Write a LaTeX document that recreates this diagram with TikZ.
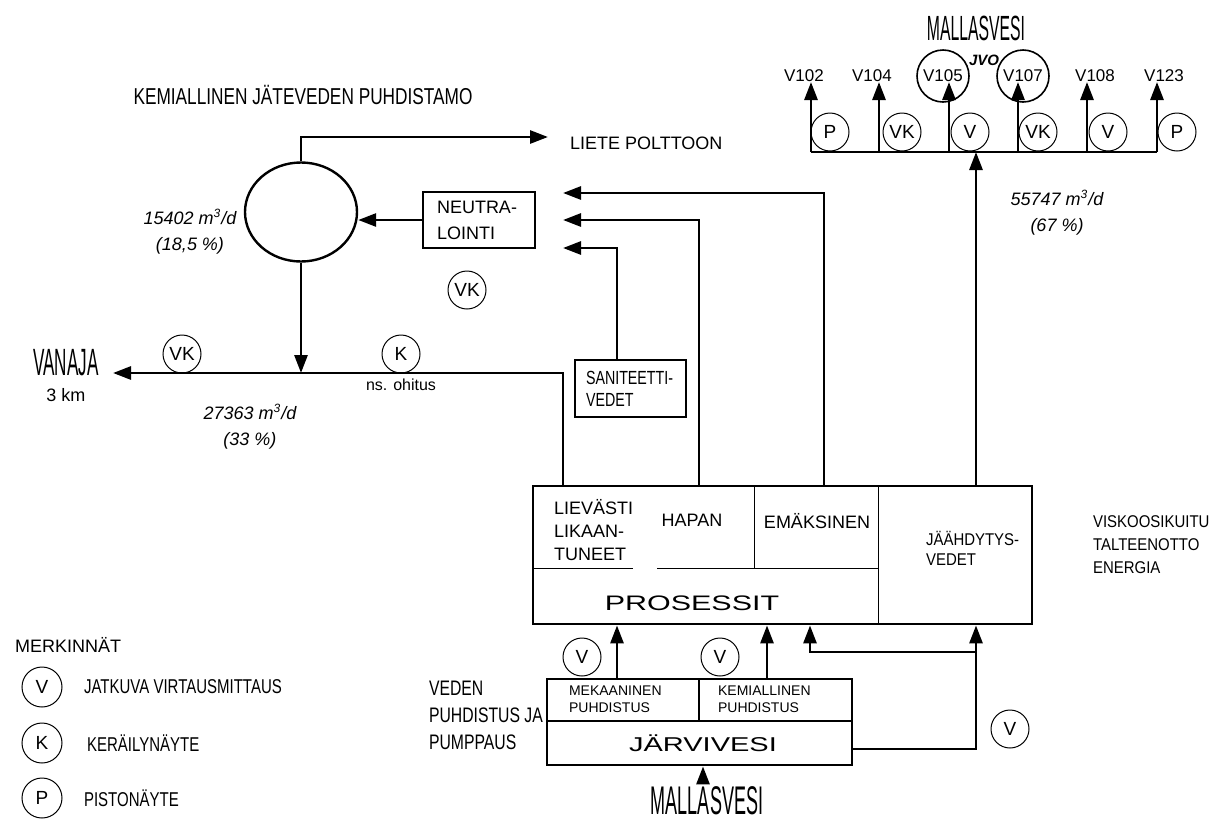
\documentclass[tikz,border=0pt]{standalone}
\usepackage{fontspec}
\setmainfont{Liberation Sans}
\newfontfamily\condfont[FakeStretch=0.75]{Liberation Sans}
\newfontfamily\semicondfont[FakeStretch=0.88]{Liberation Sans}
\newfontfamily\narrowfont[FakeStretch=0.45]{Liberation Sans}
\newfontfamily\widefont[FakeStretch=1.45]{Liberation Sans}
\usetikzlibrary{positioning, shapes.geometric, arrows.meta}

\tikzset{
	labeltext/.style={font=\fontsize{9}{11.5}\selectfont}
}
\tikzset{
	flowtext/.style={font=\fontsize{9}{11}\selectfont\itshape}
}
\tikzset{
	legendtext/.style={font=\fontsize{10}{12}\condfont}
}

\begin{document}
\begin{tikzpicture}[x=0.5pt,y=-0.5pt]

      \tikzset{
        pipe/.style={line width=1.4pt},
        flow/.style={line width=1.4pt, -{Triangle[length=9pt,width=6.5pt]}},
        divider/.style={line width=0.45pt},
        meter/.style={
            shape=circle,
            draw=black,
            line width=0.5pt,
            minimum size=19pt,
            inner sep=0pt,
            font=\fontsize{9.5}{10}\selectfont
          },
        bigmeter/.style={meter, minimum size=26pt, line width=0.8pt, font=\fontsize{8.5}{9}\selectfont},
        vlabel/.style={font=\fontsize{8.5}{9}\selectfont, inner sep=1pt},
        unitbox/.style={draw=black, line width=1.4pt, inner sep=0pt}
      }

      \useasboundingbox (0,0) rectangle (1226,825);

      % jatevedenpuhdistamo
      \node[font=\fontsize{11.5}{12}\condfont] (title) at (303,95) {KEMIALLINEN JÄTEVEDEN PUHDISTAMO};
      \node[draw=black, line width=1.2pt, ellipse, inner sep=0pt,
            minimum width=56pt, minimum height=49.5pt] (clar) at (301,212) {};
      \node[unitbox, minimum width=56pt, minimum height=28pt, inner xsep=7pt, text width=42pt,
            align=left, font=\fontsize{9}{13}\selectfont] (neut) at (479,220) {NEUTRA-\\LOINTI};
      \node[meter] (vkneut) at (467,290) {VK};
      \node[flowtext] (q1a) at (190,217) {15402 m\textsuperscript{3}/d};
      \node[flowtext, below=-1pt of q1a] (q1b) {(18,5 \%)};
      \node[labeltext, anchor=west] (liete) at (563,143) {LIETE POLTTOON};
      \coordinate (lietetip) at (548,137);

      \draw[flow] (clar.north) |- (lietetip);
      \draw[flow] (neut.west) -- (clar.east |- neut.west);

      % prosessit
      \node[unitbox, minimum width=249.5pt, minimum height=69pt] (proc) at (782.5,555) {};
      \draw[divider] (533,568) -- (633,568) (657,568) -- (878,568)
                     (754,486) -- (754,568) (878,486) -- (878,624);
      \node[labeltext, anchor=west, align=left] (liev) at (547,530) {LIEVÄSTI\\LIKAAN-\\TUNEET};
      \node[labeltext] (hapan) at (692,520) {HAPAN};
      \node[labeltext] (emaks) at (817,521) {EMÄKSINEN};
      \node[labeltext, anchor=west, align=left, font=\fontsize{8.5}{10}\semicondfont] (jaahd) at (919,548) {JÄÄHDYTYS-\\VEDET};
      \node[font=\fontsize{10.5}{12}\widefont] (prosessit) at (692,603) {PROSESSIT};
      \node[labeltext, anchor=west, align=left, font=\fontsize{8.5}{11.5}\semicondfont] (visko) at (1086,545) {VISKOOSIKUITU\\TALTEENOTTO\\ENERGIA};

      \coordinate (pLiev) at (563,486);
      \coordinate (pHap) at (699,486);
      \coordinate (pEmak) at (824,486);
      \coordinate (pJaah) at (976,486);
      \coordinate (tipE) at (563,193);
      \coordinate (tipH) at (563,220);
      \coordinate (tipS) at (563,248);

      % saniteettivedet
      \node[unitbox, minimum width=55.5pt, minimum height=28.5pt, inner xsep=5.5pt, text width=44.5pt,
            align=left, font=\fontsize{9.5}{11}\condfont] (sanit) at (630.5,388.5) {SANITEETTI-\\VEDET};

      \draw[flow] (pEmak) |- (tipE);
      \draw[flow] (pHap) |- (tipH);
      \draw[flow] (617,0 |- sanit.north) |- (tipS);

      % Vanajaan
      \coordinate (vanajatip) at (113,373);
      \draw[flow] (pLiev) |- (vanajatip);
      \draw[flow] (clar.south) -- (clar.south |- vanajatip);
      \node[font=\fontsize{19}{19}\narrowfont] (vanaja) at (66,363) {VANAJA};
      \node[labeltext] (km) at (66,395) {3 km};
      \node[meter] (vkout) at (182,354) {VK};
      \node[meter] (kout) at (401,354) {K};
      \node[font=\fontsize{8}{9}\selectfont] (ohitus) at (401,385) {ns. ohitus};
      \node[flowtext] (q2a) at (250,412) {27363 m\textsuperscript{3}/d};
      \node[flowtext, below=-1pt of q2a] (q2b) {(33 \%)};

      % Mallasveteen
      \foreach \x/\lx/\vname/\vstyle in {811/804/V102/vlabel, 879/872/V104/vlabel, 949/943/V105/bigmeter,
                                         1018/1023/V107/bigmeter, 1087/1095/V108/vlabel, 1157/1164/V123/vlabel} {
        \coordinate (out\vname) at (\x,152);
        \coordinate (tip\vname) at (\x,82);
        \draw[flow] (out\vname) -- (tip\vname);
        \node[\vstyle] (lab\vname) at (\lx,76) {\vname};
      }
      \draw[pipe] (outV102) -- (outV123);
      \foreach \x/\t in {830/P, 902/VK, 970/V, 1038/VK, 1108/V, 1177/P} {
        \node[meter] (m\x) at (\x,132) {\t};
      }
      \draw[flow] (pJaah) -- (pJaah |- outV102);
      \node[font=\fontsize{17.5}{18}\narrowfont] (mallastop) at (976,28) {MALLASVESI};
      \node[font=\fontsize{7.5}{8}\bfseries\itshape] (jvo) at (984,60) {JVO};
      \node[flowtext] (q3a) at (1057,198) {55747 m\textsuperscript{3}/d};
      \node[flowtext, below=-1pt of q3a] (q3b) {(67 \%)};

      % veden puhdistus ja pumppaus
      \node[unitbox, minimum width=152.5pt, minimum height=43pt] (wtp) at (699.5,722) {};
      \draw[line width=0.9pt] (547,721) -- (852,721) (699,679) -- (699,721);
      \node[anchor=west, align=left, font=\fontsize{7}{8.5}\selectfont] (mek) at (562,699) {MEKAANINEN\\PUHDISTUS};
      \node[anchor=west, align=left, font=\fontsize{7}{8.5}\selectfont] (kem) at (711,699) {KEMIALLINEN\\PUHDISTUS};
      \node[font=\fontsize{10}{12}\widefont] (jarvi) at (703,743) {JÄRVIVESI};
      \node[meter] (vmek) at (582,657) {V};
      \node[meter] (vkem) at (720,657) {V};
      \node[meter] (vcool) at (1010,729) {V};
      \node[legendtext, anchor=west, align=left, font=\fontsize{10.5}{13.5}\condfont] (veden) at (422,715) {VEDEN\\PUHDISTUS JA\\PUMPPAUS};

      \draw[flow] (617,0 |- wtp.north) -- (617,0 |- proc.south);
      \draw[flow] (767,0 |- wtp.north) -- (767,0 |- proc.south);
      \draw[flow] (wtp.east |- 0,749) -| (976,0 |- proc.south);
      \draw[flow] (976,652) -| (810,0 |- proc.south);

      \node[font=\fontsize{20}{21}\narrowfont, inner xsep=2pt, inner ysep=0.5pt] (mallasbot) at (707,801) {MALLASVESI};
      \draw[flow] ([yshift=1pt]703,0 |- mallasbot.north) -- (703,0 |- wtp.south);

      % merkinnat
      \node[labeltext, anchor=west] (merk) at (8,645) {MERKINNÄT};
      \foreach \y/\t/\desc/\dx in {687/V/JATKUVA VIRTAUSMITTAUS/77, 743/K/KERÄILYNÄYTE/80, 798/P/PISTONÄYTE/77} {
        \node[meter, minimum size=20pt] (leg\t) at (42,\y) {\t};
        \node[legendtext, anchor=west] (legtext\t) at (\dx,\y) {\desc};
      }
    \end{tikzpicture}
\end{document}
